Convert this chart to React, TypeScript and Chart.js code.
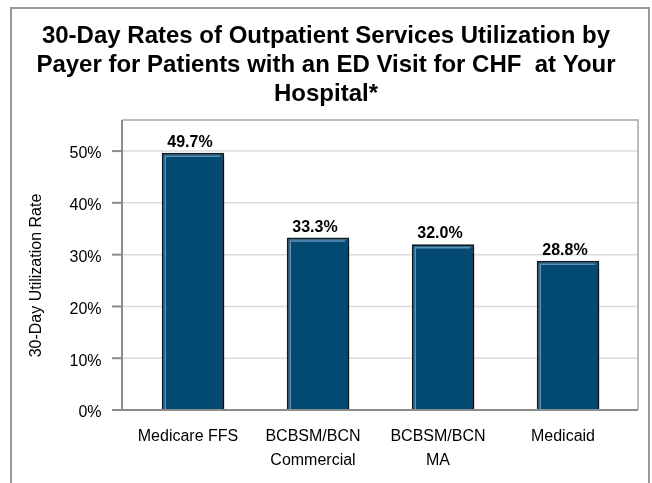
import { useEffect, useRef } from 'react';
import { Chart, registerables } from 'chart.js';

Chart.register(...registerables);

const categories: string[][] = [['Medicare FFS'], ['BCBSM/BCN', 'Commercial'], ['BCBSM/BCN', 'MA'], ['Medicaid']];
const rates: number[] = [49.7, 33.3, 32.0, 28.8];
const yTickValues: number[] = [0, 10, 20, 30, 40, 50];
const titleLines: string[] = [
  '30-Day Rates of Outpatient Services Utilization by',
  'Payer for Patients with an ED Visit for CHF  at Your',
  'Hospital*',
];
const yAxisTitle = '30-Day Utilization Rate';
const yMax = 56;

const FONT = "'Liberation Sans', Arial, Helvetica, sans-serif";

const decorPlugin = {
  id: 'decor',
  beforeDraw(chart: any) {
    const ctx = chart.ctx;
    ctx.save();
    ctx.strokeStyle = '#9a9a9a';
    ctx.lineWidth = 2;
    ctx.beginPath();
    ctx.moveTo(11, 520);
    ctx.lineTo(11, 8);
    ctx.lineTo(649, 8);
    ctx.lineTo(649, 520);
    ctx.stroke();
    ctx.restore();
  },
  beforeDatasetsDraw(chart: any) {
    const { ctx, chartArea, scales } = chart;
    const left = chartArea.left - 8.5;
    const right = chartArea.right + 7.5;
    ctx.save();
    ctx.strokeStyle = '#dcdcdc';
    ctx.lineWidth = 1.5;
    yTickValues.forEach((v) => {
      if (v === 0) return;
      const y = scales.y.getPixelForValue(v);
      ctx.beginPath();
      ctx.moveTo(left, y);
      ctx.lineTo(right, y);
      ctx.stroke();
    });
    ctx.restore();
    ctx.save();
    ctx.shadowColor = 'rgba(0,0,0,0.38)';
    ctx.shadowOffsetX = 4;
    ctx.shadowOffsetY = 3;
    ctx.shadowBlur = 1.5;
  },
  afterDatasetsDraw(chart: any) {
    const { ctx, chartArea, scales } = chart;
    ctx.restore();
    const meta = chart.getDatasetMeta(0);
    // inner highlights
    ctx.save();
    ctx.strokeStyle = 'rgba(125,170,205,0.75)';
    ctx.lineWidth = 1.5;
    meta.data.forEach((bar: any) => {
      const { x, y, base, width } = bar.getProps(['x', 'y', 'base', 'width'], true);
      const l = x - width / 2;
      const r = x + width / 2;
      ctx.beginPath();
      ctx.moveTo(l + 3.5, base);
      ctx.lineTo(l + 3.5, y + 3.5);
      ctx.lineTo(r - 4, y + 3.5);
      ctx.stroke();
    });
    ctx.restore();
    // frame
    const left = chartArea.left - 8.5;
    const right = chartArea.right + 7.5;
    const top = chartArea.top;
    const bottom = chartArea.bottom;
    ctx.save();
    ctx.lineWidth = 1.5;
    ctx.strokeStyle = '#a8a8a8';
    ctx.beginPath();
    ctx.moveTo(left, top);
    ctx.lineTo(right, top);
    ctx.lineTo(right, bottom);
    ctx.stroke();
    ctx.lineWidth = 2;
    ctx.strokeStyle = '#8c8c8c';
    ctx.beginPath();
    ctx.moveTo(left, top);
    ctx.lineTo(left, bottom);
    ctx.lineTo(right, bottom);
    ctx.stroke();
    // tick marks
    yTickValues.forEach((v) => {
      const y = scales.y.getPixelForValue(v);
      ctx.beginPath();
      ctx.moveTo(left - 10, y);
      ctx.lineTo(left, y);
      ctx.stroke();
    });
    ctx.restore();
    // value labels
    ctx.save();
    ctx.fillStyle = '#000';
    ctx.font = `bold 16px ${FONT}`;
    ctx.textAlign = 'center';
    ctx.textBaseline = 'alphabetic';
    meta.data.forEach((bar: any, i: number) => {
      const { x, y } = bar.getProps(['x', 'y'], true);
      ctx.fillText(rates[i].toFixed(1) + '%', x - 3, y - 6);
    });
    ctx.restore();
    // y axis title
    ctx.save();
    ctx.fillStyle = '#000';
    ctx.font = `16px ${FONT}`;
    ctx.textAlign = 'center';
    ctx.textBaseline = 'middle';
    ctx.translate(37, 275.5);
    ctx.rotate(-Math.PI / 2);
    ctx.fillText(yAxisTitle, 0, 0);
    ctx.restore();
  },
};

export default function App() {
  const canvasRef = useRef<HTMLCanvasElement | null>(null);

  useEffect(() => {
    const canvas = canvasRef.current;
    if (!canvas) return;
    const chart = new Chart(canvas, {
      type: 'bar',
      data: {
        labels: categories,
        datasets: [
          {
            data: rates,
            backgroundColor: '#034a73',
            borderColor: '#0c1c28',
            borderWidth: 2,
            barPercentage: 0.5,
            categoryPercentage: 1,
          },
        ],
      },
      options: {
        animation: false,
        responsive: false,
        devicePixelRatio: 1,
        layout: { padding: { left: 0, right: 0, top: 0, bottom: 0 } },
        plugins: {
          legend: { display: false },
          tooltip: { enabled: false },
          title: {
            display: true,
            text: titleLines,
            color: '#000',
            font: { family: FONT, size: 24, weight: 'bold', lineHeight: 1.2 },
            padding: { top: 22, bottom: 11.6 },
          },
        },
        scales: {
          x: {
            type: 'category',
            offset: true,
            grid: { display: false, drawTicks: false },
            border: { display: false },
            ticks: {
              color: '#000',
              font: { family: FONT, size: 16, lineHeight: 1.47 },
              padding: 15,
              labelOffset: -5,
              maxRotation: 0,
              autoSkip: false,
            },
            afterFit: (s: any) => {
              s.height = 73;
            },
          },
          y: {
            type: 'linear',
            position: 'left',
            min: 0,
            max: yMax,
            grid: { display: false, drawTicks: false },
            border: { display: false },
            ticks: {
              stepSize: 10,
              color: '#000',
              font: { family: FONT, size: 16 },
              padding: 29,
              labelOffset: 3,
              callback: (v: any) => v + '%',
            },
            afterBuildTicks: (s: any) => {
              s.ticks = yTickValues.map((v) => ({ value: v }));
            },
            afterFit: (s: any) => {
              s.width = 130.5;
            },
          },
          y2: {
            type: 'linear',
            position: 'right',
            display: true,
            grid: { display: false, drawTicks: false },
            border: { display: false },
            ticks: { display: false },
            afterFit: (s: any) => {
              s.width = 21.5;
            },
          },
        },
      },
      plugins: [decorPlugin],
    });
    return () => chart.destroy();
  }, []);

  return (
    <div style={{ position: 'absolute', left: 0, top: 0, width: 652, height: 483, background: '#fff' }}>
      <canvas ref={canvasRef} width={652} height={483} style={{ display: 'block', width: 652, height: 483 }} />
    </div>
  );
}
